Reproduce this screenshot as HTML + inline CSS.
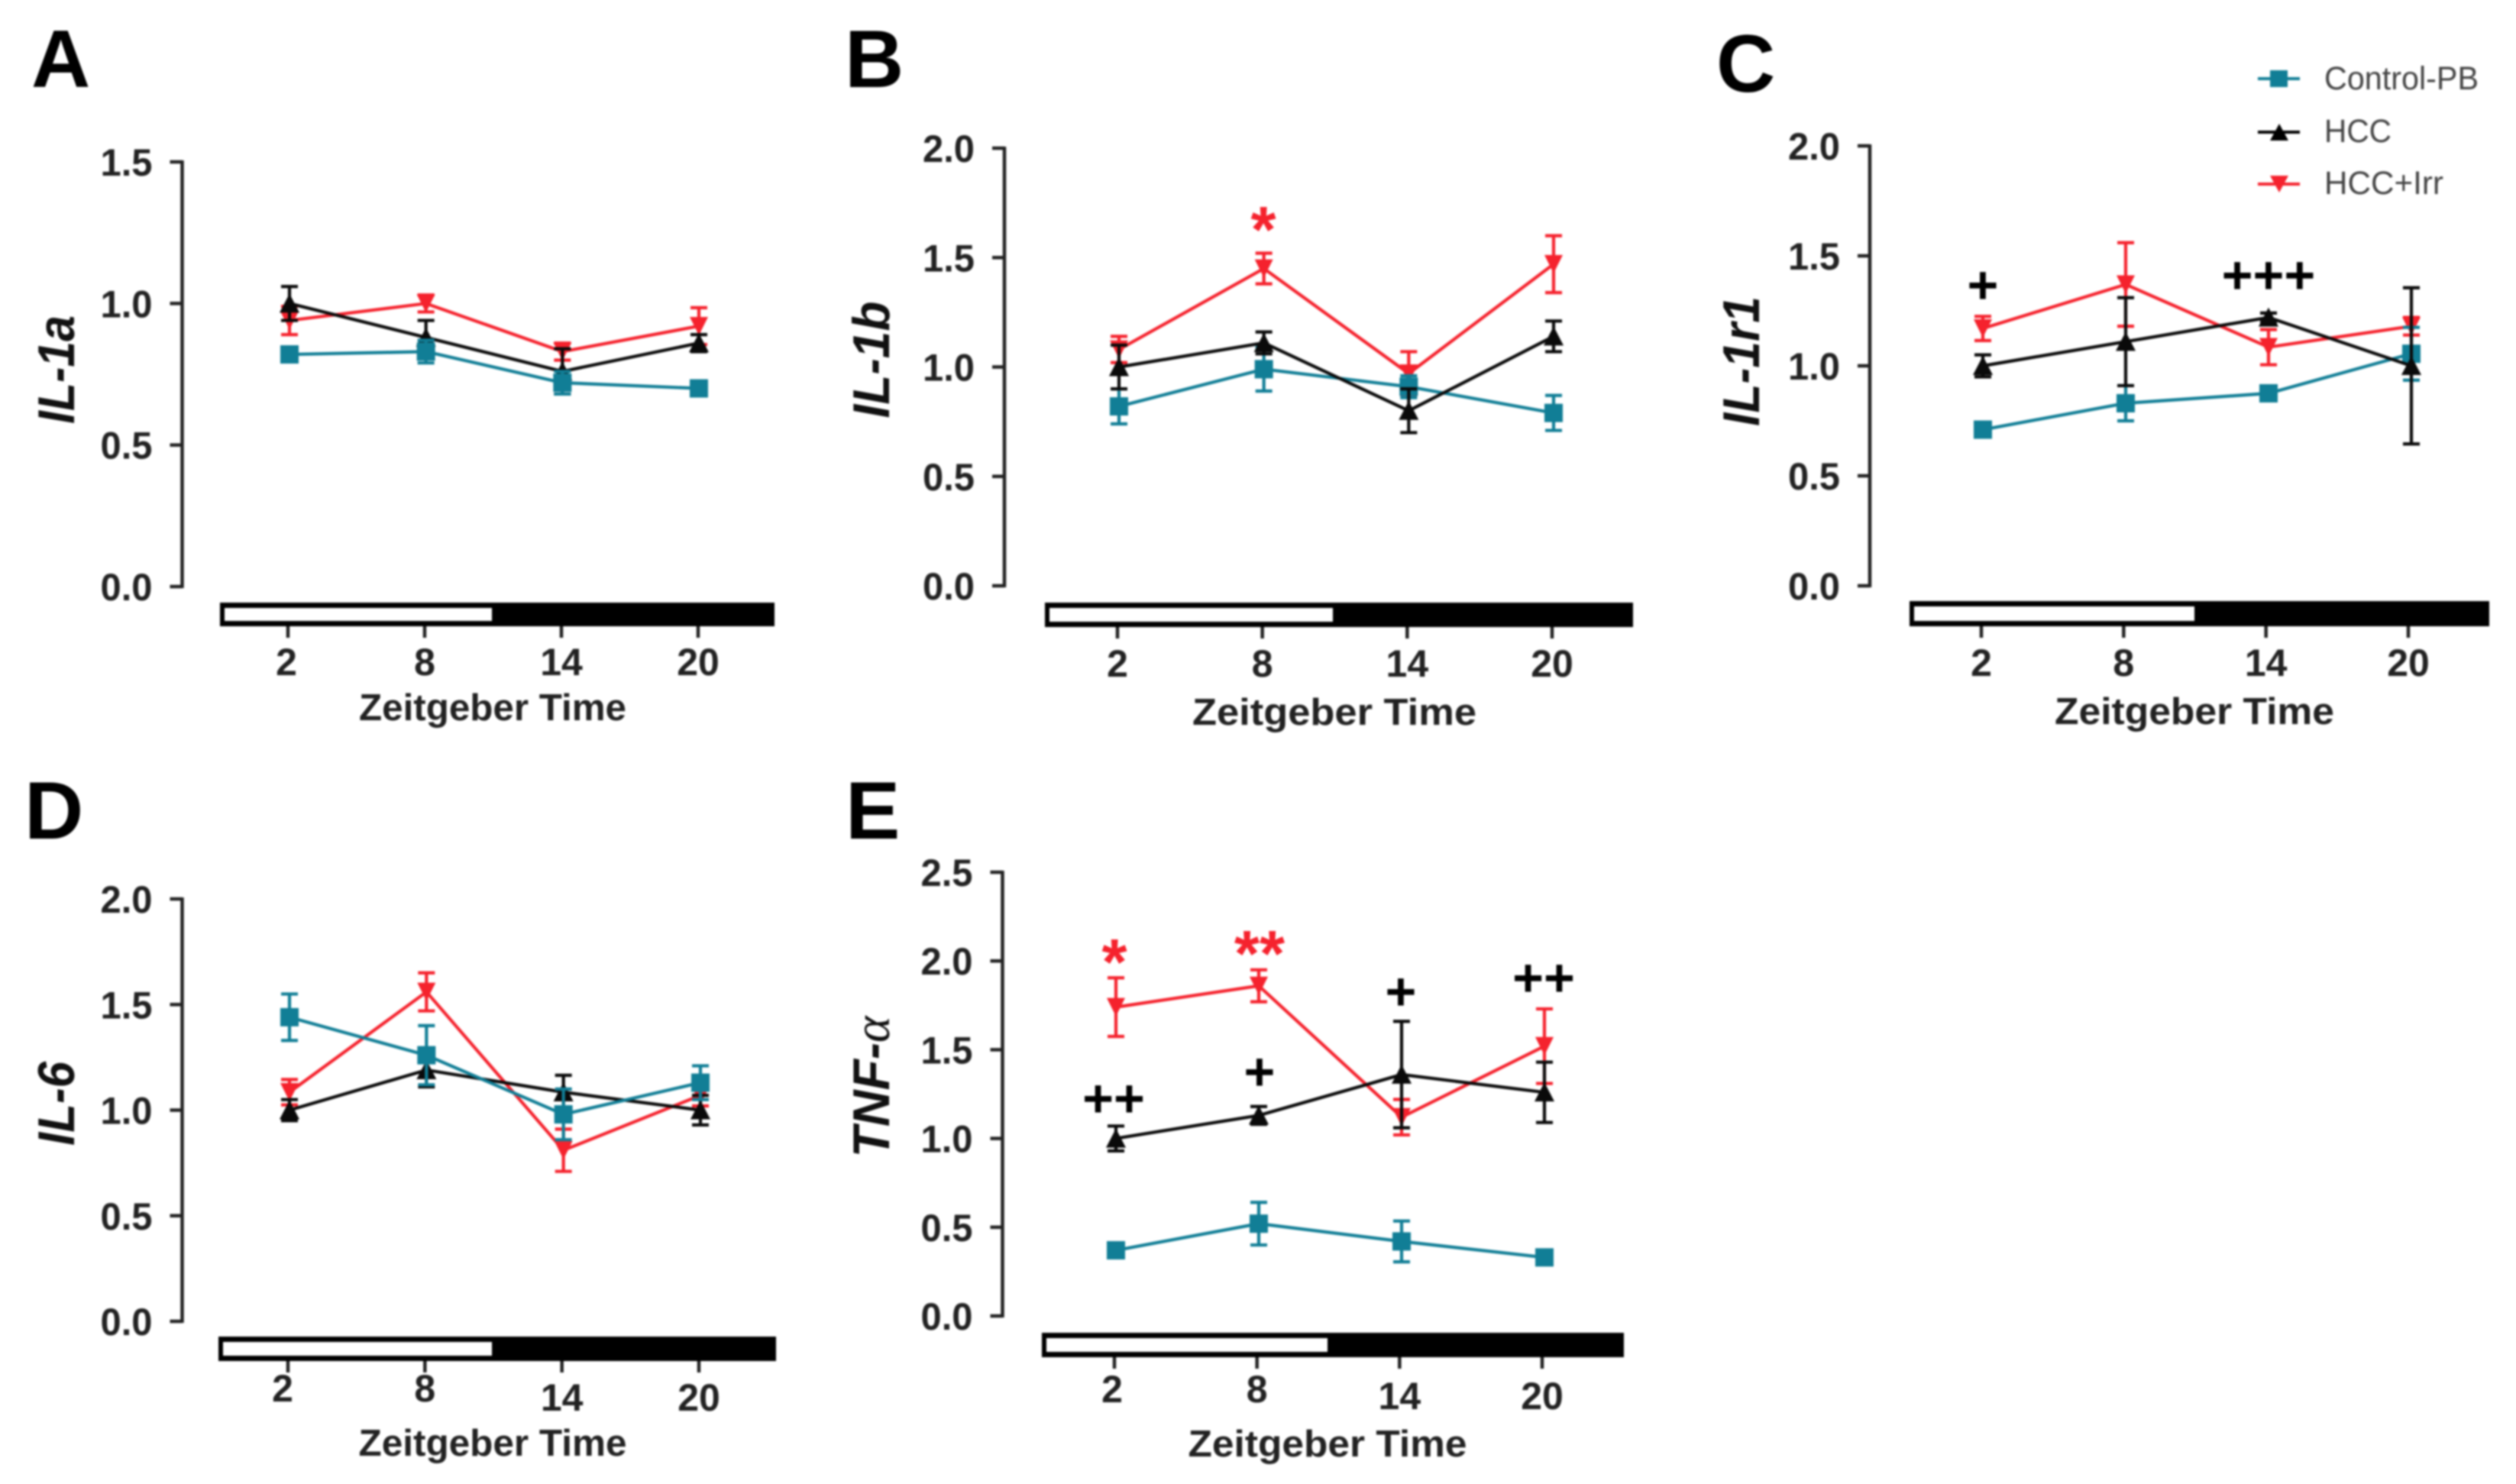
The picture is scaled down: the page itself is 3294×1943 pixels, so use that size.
<!DOCTYPE html>
<html lang="en">
<head>
<meta charset="utf-8">
<title>Cytokine expression across Zeitgeber Time</title>
<style>
html,body{margin:0;padding:0;background:#fff;}
svg{display:block;filter:blur(1.4px);}
text{font-family:"Liberation Sans",sans-serif;}
.letter{font-size:107px;font-weight:700;fill:#000;}
.ytitle{font-size:68px;font-weight:700;font-style:italic;fill:#111;}
.xtitle{font-size:49px;font-weight:700;fill:#222;}
.ytick{font-size:50px;font-weight:700;fill:#222;}
.xtick{font-size:50px;font-weight:700;fill:#222;}
.legend-text{font-size:43px;fill:#444;}
.plus{font-size:70px;font-weight:700;fill:#000;text-anchor:middle;}
.star{font-size:85px;font-weight:700;fill:#f5222d;text-anchor:middle;}
</style>
</head>
<body>
<svg id="figure" xmlns="http://www.w3.org/2000/svg" width="3294" height="1943" viewBox="0 0 3294 1943">
  <rect width="3294" height="1943" fill="#fff"/>

  <g id="panel-a">
    <text class="letter" x="41" y="114">A</text>
    <text class="ytitle" transform="translate(97,484) rotate(-90)" text-anchor="middle" textLength="142" lengthAdjust="spacingAndGlyphs">IL-1a</text>
    <text class="xtitle" x="645" y="943" text-anchor="middle" textLength="350" lengthAdjust="spacingAndGlyphs">Zeitgeber Time</text>
  </g>

  <g id="panel-b">
    <text class="letter" x="1106" y="114">B</text>
    <text class="ytitle" transform="translate(1164,471) rotate(-90)" text-anchor="middle" textLength="153" lengthAdjust="spacingAndGlyphs">IL-1b</text>
    <text class="xtitle" x="1747" y="949" text-anchor="middle" textLength="372" lengthAdjust="spacingAndGlyphs">Zeitgeber Time</text>
    <text class="star" x="1654" y="330">*</text>
  </g>

  <g id="panel-c">
    <text class="letter" x="2247" y="120">C</text>
    <text class="ytitle" transform="translate(2303,473) rotate(-90)" text-anchor="middle" textLength="170" lengthAdjust="spacingAndGlyphs">IL-1r1</text>
    <text class="xtitle" x="2873" y="948" text-anchor="middle" textLength="366" lengthAdjust="spacingAndGlyphs">Zeitgeber Time</text>
    <text class="plus" x="2596" y="397">+</text>
    <text class="plus" x="2970" y="384">+++</text>
  </g>

  <g id="panel-d">
    <text class="letter" x="32" y="1098">D</text>
    <text class="ytitle" transform="translate(97,1445) rotate(-90)" text-anchor="middle" textLength="110" lengthAdjust="spacingAndGlyphs">IL-6</text>
    <text class="xtitle" x="645" y="1906" text-anchor="middle" textLength="351" lengthAdjust="spacingAndGlyphs">Zeitgeber Time</text>
  </g>

  <g id="panel-e">
    <text class="letter" x="1107" y="1098">E</text>
    <text class="ytitle" transform="translate(1164,1423) rotate(-90)" text-anchor="middle" textLength="185" lengthAdjust="spacingAndGlyphs">TNF-<tspan font-family="Liberation Serif" font-weight="400">α</tspan></text>
    <text class="xtitle" x="1738" y="1907" text-anchor="middle" textLength="365" lengthAdjust="spacingAndGlyphs">Zeitgeber Time</text>
    <text class="star" x="1459" y="1289">*</text>
    <text class="star" x="1649" y="1278">**</text>
    <text class="plus" x="1458" y="1462">++</text>
    <text class="plus" x="1649" y="1427">+</text>
    <text class="plus" x="1834" y="1322">+</text>
    <text class="plus" x="2021" y="1304">++</text>
  </g>

  <g id="legend">
    <g>
      <line x1="2956" x2="3011" y1="103" y2="103" stroke="#117e96" stroke-width="4"/>
      <rect x="2972" y="92" width="23" height="22" fill="#117e96"/>
      <text class="legend-text" x="3043" y="117" textLength="202" lengthAdjust="spacingAndGlyphs">Control-PB</text>
    </g>
    <g>
      <line x1="2956" x2="3011" y1="173" y2="173" stroke="#000" stroke-width="4"/>
      <polygon points="2984,162 2996,184 2972,184" fill="#000"/>
      <text class="legend-text" x="3043" y="186" textLength="88" lengthAdjust="spacingAndGlyphs">HCC</text>
    </g>
    <g>
      <line x1="2956" x2="3011" y1="241" y2="241" stroke="#f5222d" stroke-width="4"/>
      <polygon points="2972,230 2996,230 2984,252" fill="#f5222d"/>
      <text class="legend-text" x="3043" y="254" textLength="156" lengthAdjust="spacingAndGlyphs">HCC+Irr</text>
    </g>
  </g>
</svg>

<script>
// Shared categories and tick labels
const zeitgeberTimes = [2, 8, 14, 20];
const yTicksA = [0, 0.5, 1.0, 1.5];
const yTicksBCD = [0, 0.5, 1.0, 1.5, 2.0];
const yTicksE = [0, 0.5, 1.0, 1.5, 2.0, 2.5];

// Panel A: IL-1a
const aControl = [0.82, 0.83, 0.72, 0.70];
const aControlErr = [0.02, 0.04, 0.04, 0.02];
const aHcc = [1.00, 0.88, 0.76, 0.86];
const aHccErr = [0.06, 0.06, 0.08, 0.03];
const aIrr = [0.94, 1.00, 0.83, 0.92];
const aIrrErr = [0.05, 0.03, 0.03, 0.065];

// Panel B: IL-1b
const bControl = [0.82, 0.99, 0.91, 0.79];
const bControlErr = [0.08, 0.10, 0.05, 0.08];
const bHcc = [1.00, 1.11, 0.80, 1.14];
const bHccErr = [0.10, 0.05, 0.10, 0.07];
const bIrr = [1.08, 1.45, 0.97, 1.47];
const bIrrErr = [0.06, 0.07, 0.10, 0.13];

// Panel C: IL-1r1
const cControl = [0.71, 0.83, 0.875, 1.055];
const cControlErr = [0.03, 0.08, 0.02, 0.12];
const cHcc = [1.00, 1.11, 1.22, 1.00];
const cHccErr = [0.05, 0.20, 0.02, 0.355];
const cIrr = [1.17, 1.37, 1.085, 1.18];
const cIrrErr = [0.055, 0.19, 0.08, 0.04];

// Panel D: IL-6
const dControl = [1.44, 1.26, 0.98, 1.13];
const dControlErr = [0.11, 0.14, 0.12, 0.08];
const dHcc = [1.00, 1.19, 1.085, 1.00];
const dHccErr = [0.05, 0.08, 0.08, 0.07];
const dIrr = [1.085, 1.56, 0.81, 1.07];
const dIrrErr = [0.06, 0.09, 0.10, 0.05];

// Panel E: TNF-alpha
const eControl = [0.37, 0.52, 0.42, 0.33];
const eControlErr = [0.02, 0.12, 0.115, 0.02];
const eHcc = [1.00, 1.13, 1.36, 1.26];
const eHccErr = [0.07, 0.05, 0.30, 0.17];
const eIrr = [1.74, 1.86, 1.12, 1.52];
const eIrrErr = [0.165, 0.09, 0.10, 0.21];

const NS = 'http://www.w3.org/2000/svg';
const TEAL = '#117e96';
const BLACK = '#0a0a0a';
const RED = '#f5222d';

function mk(tag, attrs, parent) {
  const el = document.createElementNS(NS, tag);
  for (const k in attrs) el.setAttribute(k, attrs[k]);
  parent.appendChild(el);
  return el;
}

function drawAxes(p) {
  const g = document.getElementById('panel-' + p.id);
  const yScale = v => p.yZero - (v / p.yMax) * (p.yZero - p.yTop);
  const xTick = t => p.tick0 + (t - 2) / 18 * (p.tick1 - p.tick0);

  const axis = mk('line', {x1: p.axisX, x2: p.axisX, y1: p.yTop - 2, y2: p.yZero + 2, stroke: '#222', 'stroke-width': 4.5}, g);
  
  

  p.yTicks.forEach(v => {
    const tick = mk('line', {x1: p.axisX - 16, x2: p.axisX, y1: yScale(v), y2: yScale(v), stroke: '#222', 'stroke-width': 4.5}, g);
    
    
    const label = mk('text', {class: 'ytick', x: p.axisX - 39, y: yScale(v) + 18, 'text-anchor': 'end', textLength: 68, lengthAdjust: 'spacingAndGlyphs'}, g);
    
    
    label.textContent = v.toFixed(1);
  });

  const barOuter = mk('rect', {x: p.barX0, y: p.barY0, width: p.barX1 - p.barX0, height: p.barY1 - p.barY0, fill: '#000'}, g);
  
  
  const barLight = mk('rect', {x: p.barX0 + 6, y: p.barY0 + 7, width: p.barMid - p.barX0 - 6, height: p.barY1 - p.barY0 - 14, fill: '#fff'}, g);
  
  

  zeitgeberTimes.forEach((t, i) => {
    const tick = mk('line', {x1: xTick(t), x2: xTick(t), y1: p.barY1, y2: p.barY1 + 15, stroke: '#222', 'stroke-width': 4.5}, g);
    
    
    const lab = mk('text', {class: 'xtick', x: xTick(t) + (i === 0 ? p.firstLabelShift : 0), y: p.labelY + (i >= 2 ? p.labelDrop : 0), 'text-anchor': 'middle'}, g);
    
    
    lab.textContent = t;
  });
}

function drawSeries(p, name, color, shape, values, errors) {
  const g = document.getElementById('panel-' + p.id);
  const yScale = v => p.yZero - (v / p.yMax) * (p.yZero - p.yTop);
  const xScale = t => p.data0 + (t - 2) / 18 * (p.data1 - p.data0);
  const group = mk('g', {}, g);
  
  

  const pts = zeitgeberTimes.map((t, i) => xScale(t) + ',' + yScale(values[i])).join(' ');
  const line = mk('polyline', {points: pts, fill: 'none', stroke: color, 'stroke-width': 4.2}, group);
  
  

  zeitgeberTimes.forEach((t, i) => {
    const x = xScale(t), y = yScale(values[i]);
    const hi = yScale(values[i] + errors[i]), lo = yScale(values[i] - errors[i]);
    const d = 'M' + x + ' ' + hi + 'V' + lo + 'M' + (x - 11) + ' ' + hi + 'H' + (x + 11) + 'M' + (x - 11) + ' ' + lo + 'H' + (x + 11);
    const err = mk('path', {d: d, fill: 'none', stroke: color, 'stroke-width': 4.2}, group);
    
    

    let marker;
    if (shape === 'square') {
      marker = mk('rect', {x: x - 12, y: y - 12, width: 24, height: 24, fill: color}, group);
    } else if (shape === 'up') {
      marker = mk('polygon', {points: x + ',' + (y - 13) + ' ' + (x + 13) + ',' + (y + 12) + ' ' + (x - 13) + ',' + (y + 12), fill: color}, group);
    } else {
      marker = mk('polygon', {points: (x - 12) + ',' + (y - 12) + ' ' + (x + 12) + ',' + (y - 12) + ' ' + x + ',' + (y + 12), fill: color}, group);
    }
    
    
  });
}

const panelA = {id: 'a', yMax: 1.5, yTicks: yTicksA, axisX: 238.5, yTop: 212, yZero: 768, tick0: 377, tick1: 914, data0: 379, data1: 915, barX0: 288, barX1: 1014, barMid: 644, barY0: 789, barY1: 820, labelY: 884, labelDrop: 0, firstLabelShift: -2};
const panelB = {id: 'b', yMax: 2, yTicks: yTicksBCD, axisX: 1315, yTop: 194, yZero: 767, tick0: 1463, tick1: 2032, data0: 1465, data1: 2034, barX0: 1368, barX1: 2138, barMid: 1745, barY0: 789, barY1: 821, labelY: 886, labelDrop: 0, firstLabelShift: 0};
const panelC = {id: 'c', yMax: 2, yTicks: yTicksBCD, axisX: 2448, yTop: 191, yZero: 767, tick0: 2594, tick1: 3153, data0: 2596, data1: 3157, barX0: 2500, barX1: 3259, barMid: 2873, barY0: 787, barY1: 820, labelY: 885, labelDrop: 0, firstLabelShift: 0};
const panelD = {id: 'd', yMax: 2, yTicks: yTicksBCD, axisX: 238.5, yTop: 1177, yZero: 1730, tick0: 377, tick1: 915, data0: 379, data1: 917, barX0: 286, barX1: 1016, barMid: 644, barY0: 1750, barY1: 1782, labelY: 1835, labelDrop: 12, firstLabelShift: -7};
const panelE = {id: 'e', yMax: 2.5, yTicks: yTicksE, axisX: 1312.5, yTop: 1142, yZero: 1723, tick0: 1459, tick1: 2019, data0: 1461, data1: 2022, barX0: 1364, barX1: 2126, barMid: 1738, barY0: 1745, barY1: 1777, labelY: 1836, labelDrop: 9, firstLabelShift: -3};

drawAxes(panelA);
drawSeries(panelA, 'hcc-irr', RED, 'down', aIrr, aIrrErr);
drawSeries(panelA, 'hcc', BLACK, 'up', aHcc, aHccErr);
drawSeries(panelA, 'control-pb', TEAL, 'square', aControl, aControlErr);

drawAxes(panelB);
drawSeries(panelB, 'hcc-irr', RED, 'down', bIrr, bIrrErr);
drawSeries(panelB, 'control-pb', TEAL, 'square', bControl, bControlErr);
drawSeries(panelB, 'hcc', BLACK, 'up', bHcc, bHccErr);

drawAxes(panelC);
drawSeries(panelC, 'hcc-irr', RED, 'down', cIrr, cIrrErr);
drawSeries(panelC, 'control-pb', TEAL, 'square', cControl, cControlErr);
drawSeries(panelC, 'hcc', BLACK, 'up', cHcc, cHccErr);

drawAxes(panelD);
drawSeries(panelD, 'hcc-irr', RED, 'down', dIrr, dIrrErr);
drawSeries(panelD, 'hcc', BLACK, 'up', dHcc, dHccErr);
drawSeries(panelD, 'control-pb', TEAL, 'square', dControl, dControlErr);

drawAxes(panelE);
drawSeries(panelE, 'hcc-irr', RED, 'down', eIrr, eIrrErr);
drawSeries(panelE, 'hcc', BLACK, 'up', eHcc, eHccErr);
drawSeries(panelE, 'control-pb', TEAL, 'square', eControl, eControlErr);
</script>
</body>
</html>
